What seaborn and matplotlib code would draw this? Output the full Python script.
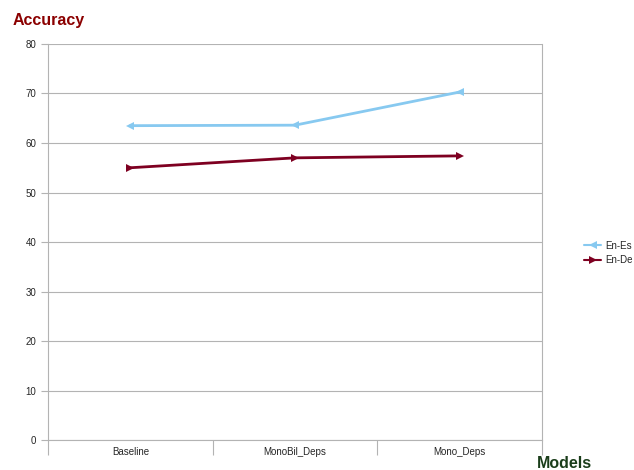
import matplotlib
matplotlib.use("Agg")
import matplotlib.pyplot as plt
import pandas as pd
import seaborn as sns

models = ["Baseline", "MonoBil_Deps", "Mono_Deps"]
en_es = [63.5, 63.6, 70.3]
en_de = [55.0, 57.0, 57.4]

df = pd.DataFrame({
    "model": models * 2,
    "accuracy": en_es + en_de,
    "pair": ["En-Es"] * 3 + ["En-De"] * 3,
})

sns.set_style("white")
plt.rcParams["font.family"] = ["Liberation Sans", "DejaVu Sans"]

fig = plt.figure(figsize=(6.34, 4.70), dpi=100)
ax = fig.add_axes([0.0757, 0.0638, 0.7792, 0.8426])

palette = {"En-Es": "#87c9f0", "En-De": "#7e0021"}
sns.lineplot(data=df, x="model", y="accuracy", hue="pair", style="pair",
             markers={"En-Es": "<", "En-De": ">"}, dashes=False,
             palette=palette, linewidth=2, markersize=6, markeredgewidth=0,
             ax=ax, sort=False)

ax.set_xlim(-0.5, 2.5)
ax.set_ylim(0, 80)
ax.set_yticks(range(0, 81, 10))
ax.yaxis.grid(True, color="#b3b3b3", linewidth=0.8)
ax.set_axisbelow(True)

ax.set_xticks([0, 1, 2])
ax.set_xticklabels(models, fontsize=7)
ax.set_xticks([-0.5, 0.5, 1.5, 2.5], minor=True)
ax.tick_params(axis="x", which="major", length=0, pad=5, bottom=True)
ax.tick_params(axis="x", which="minor", length=11, color="#b3b3b3", width=0.8,
               bottom=True)
ax.tick_params(axis="y", labelsize=7, length=5, color="#b3b3b3", width=0.8, left=True)

ax.spines["top"].set_visible(False)
for side in ["left", "right", "bottom"]:
    ax.spines[side].set_color("#b3b3b3")
    ax.spines[side].set_linewidth(0.8)

ax.set_xlabel("")
ax.set_ylabel("")

leg = ax.legend(loc="center left", bbox_to_anchor=(584 / 634, 1 - 253 / 470),
                bbox_transform=fig.transFigure, frameon=False, fontsize=7,
                handlelength=1.75, handletextpad=0.4, labelspacing=0.45,
                borderpad=0, borderaxespad=0)
for line in leg.get_lines():
    line.set_linewidth(1.5)

fig.text(13 / 634, 1 - 20 / 470, "Accuracy", color="#8b0000", fontsize=11.5,
         fontweight="bold", va="center", ha="left")
fig.text(537 / 634, 1 - 464 / 470, "Models", color="#1a3d1a", fontsize=11.5,
         fontweight="bold", va="center", ha="left")

fig.savefig("out.png", dpi=100)
